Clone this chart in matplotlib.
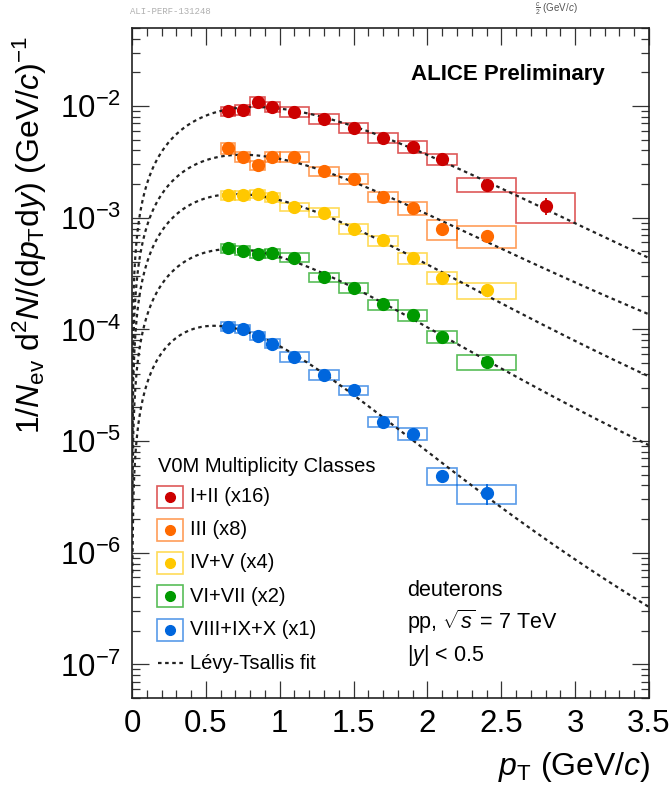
import numpy as np
import matplotlib
matplotlib.use('Agg')
import matplotlib.pyplot as plt
from matplotlib.patches import Rectangle
from matplotlib.lines import Line2D
from matplotlib.ticker import FixedLocator, NullFormatter, MultipleLocator, FuncFormatter, LogFormatterSciNotation

plt.rcParams['font.family'] = ['Liberation Sans', 'DejaVu Sans']
plt.rcParams['mathtext.fontset'] = 'custom'
plt.rcParams['mathtext.rm'] = 'Liberation Sans'
plt.rcParams['mathtext.it'] = 'Liberation Sans:italic'
plt.rcParams['mathtext.bf'] = 'Liberation Sans:bold'

M_D = 1.87561  # deuteron mass (GeV/c^2)

# pT binning (GeV/c)
pt_edges = np.array([0.6, 0.7, 0.8, 0.9, 1.0, 1.2, 1.4, 1.6, 1.8, 2.0, 2.2, 2.6, 3.0])

# spectra, already scaled by the factor in the class name
y_I_II = [9.0e-3, 9.2e-3, 1.09e-2, 9.9e-3, 8.9e-3, 7.7e-3, 6.4e-3, 5.2e-3, 4.3e-3, 3.35e-3, 1.98e-3, 1.28e-3]
y_III = [4.22e-3, 3.50e-3, 2.95e-3, 3.50e-3, 3.50e-3, 2.61e-3, 2.24e-3, 1.53e-3, 1.22e-3, 7.96e-4, 6.84e-4]
y_IV_V = [1.59e-3, 1.59e-3, 1.64e-3, 1.53e-3, 1.25e-3, 1.11e-3, 7.96e-4, 6.25e-4, 4.34e-4, 2.91e-4, 2.24e-4]
y_VI_VII = [5.33e-4, 5.08e-4, 4.75e-4, 4.81e-4, 4.40e-4, 2.92e-4, 2.35e-4, 1.67e-4, 1.34e-4, 8.6e-5, 5.1e-5]
y_VIII_X = [1.06e-4, 1.01e-4, 8.75e-5, 7.46e-5, 5.67e-5, 3.91e-5, 2.85e-5, 1.49e-5, 1.16e-5, 4.9e-6, 3.4e-6]

# relative systematic (boxes) and statistical (bars) uncertainties
syst_I_II = [0.10, 0.10, 0.10, 0.10, 0.10, 0.10, 0.11, 0.11, 0.12, 0.12, 0.14, 0.30]
syst_III = [0.11, 0.10, 0.10, 0.10, 0.10, 0.10, 0.10, 0.10, 0.14, 0.21, 0.22]
syst_IV_V = [0.09, 0.09, 0.09, 0.09, 0.09, 0.09, 0.10, 0.10, 0.12, 0.13, 0.16]
syst_VI_VII = [0.09, 0.09, 0.09, 0.09, 0.09, 0.09, 0.10, 0.10, 0.11, 0.12, 0.15]
syst_VIII_X = [0.09, 0.09, 0.09, 0.09, 0.10, 0.10, 0.10, 0.11, 0.12, 0.17, 0.19]

stat_I_II = [0.02] * 9 + [0.03, 0.06, 0.17]
stat_III = [0.02] * 8 + [0.04, 0.06, 0.08]
stat_IV_V = [0.02] * 9 + [0.04, 0.06]
stat_VI_VII = [0.02] * 9 + [0.04, 0.06]
stat_VIII_X = [0.02] * 8 + [0.04, 0.12, 0.22]

labels = ['I+II (x16)', 'III (x8)', 'IV+V (x4)', 'VI+VII (x2)', 'VIII+IX+X (x1)']
colors = ['#cc0000', '#ff6a00', '#ffc800', '#009a00', '#0066dd']

spectra = [y_I_II, y_III, y_IV_V, y_VI_VII, y_VIII_X]
systs = [syst_I_II, syst_III, syst_IV_V, syst_VI_VII, syst_VIII_X]
stats = [stat_I_II, stat_III, stat_IV_V, stat_VI_VII, stat_VIII_X]

y_lo, y_hi = 5e-8, 5e-2


def levy_shape(pt, T, n):
    mt = np.sqrt(pt ** 2 + M_D ** 2)
    return pt * (1 + (mt - M_D) / (n * T)) ** (-n)


def fit_levy(x, y, err):
    # brute force chi2 scan in log space, normalisation solved analytically
    T_grid = np.linspace(0.05, 0.8, 301)
    n_grid = np.linspace(2.5, 60, 231)
    TT, NN = np.meshgrid(T_grid, n_grid, indexing='ij')
    shape = levy_shape(x[None, None, :], TT[..., None], NN[..., None])
    r = np.log(y) - np.log(shape)
    w = 1 / err ** 2
    logA = (r * w).sum(-1) / w.sum()
    chi2 = (w * (r - logA[..., None]) ** 2).sum(-1)
    i = np.unravel_index(np.argmin(chi2), chi2.shape)
    return np.exp(logA[i]), TT[i], NN[i]


fig = plt.figure(figsize=(6.71, 7.92), dpi=100)
ax = fig.add_axes([0.1967, 0.1187, 0.7705, 0.8460])
ax.set_yscale('log')
ax.set_xlim(0, 3.5)
ax.set_ylim(y_lo, y_hi)

pt_curve = np.linspace(0.002, 3.5, 500)
for y, syst, stat, col in zip(spectra, systs, stats, colors):
    y = np.array(y)
    nb = len(y)
    lo, hi = pt_edges[:nb], pt_edges[1:nb + 1]
    x = 0.5 * (lo + hi)
    syst = np.array(syst)
    stat = np.array(stat)

    for l, h, v, s in zip(lo, hi, y, syst):
        ax.add_patch(Rectangle((l, v * (1 - s)), h - l, 2 * s * v, fill=False,
                               edgecolor=col, alpha=0.65, lw=1.2, zorder=2))

    A, T, n = fit_levy(x, y, np.sqrt(syst ** 2 + stat ** 2))
    ax.plot(pt_curve, A * levy_shape(pt_curve, T, n), color='#222222', lw=1.6,
            linestyle=(0, (1.6, 1.6)), zorder=3)

    ax.errorbar(x, y, yerr=stat * y, fmt='o', color=col, ms=8.5, mec=col,
                elinewidth=1.3, capsize=0, zorder=4)

# axes styling
for sp in ax.spines.values():
    sp.set_linewidth(1.2)
    sp.set_color('#222222')
ax.xaxis.set_major_locator(MultipleLocator(0.5))
ax.xaxis.set_minor_locator(MultipleLocator(0.1))
ax.xaxis.set_major_formatter(FuncFormatter(lambda v, p: '%g' % v))

decades = np.arange(-8, 0)
major = [10.0 ** k for k in decades if y_lo <= 10.0 ** k <= y_hi]
minor = [m * 10.0 ** k for k in decades for m in range(2, 10) if y_lo <= m * 10.0 ** k <= y_hi]
ax.yaxis.set_major_locator(FixedLocator(major))
ax.yaxis.set_major_formatter(LogFormatterSciNotation())
ax.yaxis.set_minor_locator(FixedLocator(minor))
ax.yaxis.set_minor_formatter(NullFormatter())
ax.tick_params(which='both', direction='in', top=True, right=True, color='#333333',
               labelsize=22.5, width=0.9)
ax.tick_params(which='major', length=12, pad=8)
ax.tick_params(which='minor', length=6)

fig.text(30 / 671, 1 - 36 / 792,
         r'$1/N_{\mathrm{ev}}\ \mathrm{d}^{2}N/(\mathrm{d}p_{\mathrm{T}}\mathrm{d}y)\ (\mathrm{GeV}/c)^{-1}$',
         rotation=90, ha='center', va='top', fontsize=23)
fig.text(650 / 671, 1 - 767 / 792, r'$p_{\mathrm{T}}\ (\mathrm{GeV}/c)$',
         ha='right', va='center', fontsize=23)

ax.text(0.727, 0.930, 'ALICE Preliminary', transform=ax.transAxes, ha='center',
        va='center', fontsize=16, fontweight='bold')

# legend, drawn by hand in axes fraction
ax.text(0.050, 0.345, 'V0M Multiplicity Classes', transform=ax.transAxes,
        ha='left', va='center', fontsize=14.5)
rows = [0.300, 0.251, 0.2015, 0.152, 0.1015]
bw, bh = 0.0503, 0.0328
for yy, col, lab in zip(rows, colors, labels):
    ax.add_patch(Rectangle((0.0735 - bw / 2, yy - bh / 2), bw, bh, transform=ax.transAxes,
                           fill=False, edgecolor=col, alpha=0.65, lw=1.2, zorder=5))
    ax.add_line(Line2D([0.0735], [yy], transform=ax.transAxes, marker='o', ms=7,
                       color=col, zorder=6))
    ax.text(0.112, yy, lab, transform=ax.transAxes, ha='left', va='center', fontsize=14.5)
ax.add_line(Line2D([0.050, 0.100], [0.052, 0.052], transform=ax.transAxes,
                   color='#222222', lw=1.6, linestyle=(0, (1.6, 1.6))))
ax.text(0.112, 0.052, 'Lévy-Tsallis fit', transform=ax.transAxes, ha='left',
        va='center', fontsize=14.5)

ax.text(0.532, 0.160, 'deuterons', transform=ax.transAxes, ha='left', va='center', fontsize=15.5)
ax.text(0.532, 0.113, r'pp, $\sqrt{s}$ = 7 TeV', transform=ax.transAxes, ha='left',
        va='center', fontsize=15.5)
ax.text(0.532, 0.064, r'|$y$| < 0.5', transform=ax.transAxes, ha='left', va='center',
        fontsize=15.5)

fig.text(130 / 671, 1 - 12 / 792, 'ALI-PERF-131248', family='Liberation Mono',
         fontsize=6.5, color='#b0b0b0', ha='left', va='center')
fig.text(535 / 671, 1 - 9 / 792, r'$\frac{c}{2}$ (GeV/$c$)', fontsize=7,
         color='#555555', ha='left', va='center')

fig.savefig('out.png', dpi=100)
